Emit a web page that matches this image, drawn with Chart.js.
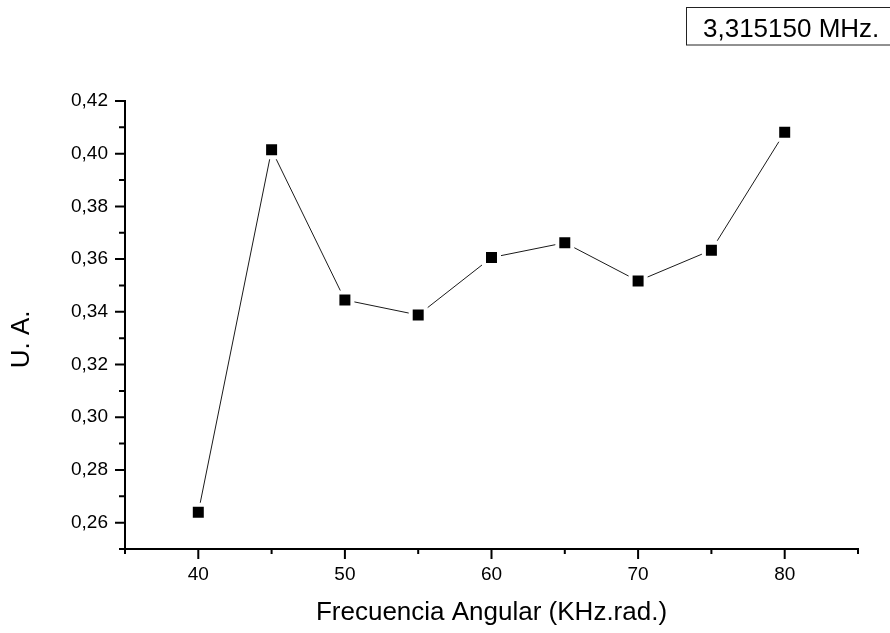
<!DOCTYPE html>
<html>
<head>
<meta charset="utf-8">
<script src="https://cdn.jsdelivr.net/npm/chart.js@4"></script>
<style>
  html, body { margin: 0; padding: 0; background: #fff; }
  #wrap { width: 890px; height: 633px; }
</style>
</head>
<body>
<div id="wrap"><canvas id="chart" width="890" height="633"></canvas></div>
<script>
// angular frequency (KHz.rad.) vs response (U. A.)
const frecuencia = [40, 45, 50, 55, 60, 65, 70, 75, 80];
const amplitud = [0.2639, 0.4015, 0.3445, 0.3388, 0.3606, 0.3662, 0.3517, 0.3634, 0.4081];
const xTicks = [35, 40, 45, 50, 55, 60, 65, 70, 75, 80, 85];
const yTicks = [0.25, 0.26, 0.27, 0.28, 0.29, 0.30, 0.31, 0.32, 0.33, 0.34, 0.35, 0.36, 0.37, 0.38, 0.39, 0.40, 0.41, 0.42];
const etiqueta = '3,315150 MHz.';

const FONT = "'Liberation Sans', Arial, sans-serif";

const esMayorX = v => Math.round(v) % 10 === 0;
const esMayorY = v => Math.round(v * 100) % 2 === 0;

// outward tick marks, long on labelled values and short in between
const marcas = {
  id: 'marcas',
  afterDraw(chart) {
    const ctx = chart.ctx;
    const area = chart.chartArea;
    const sx = chart.scales.x, sy = chart.scales.y;
    ctx.save();
    ctx.strokeStyle = '#000';
    ctx.lineWidth = 2;
    ctx.beginPath();
    sx.ticks.forEach(t => {
      const px = sx.getPixelForValue(t.value);
      ctx.moveTo(px, area.bottom);
      ctx.lineTo(px, area.bottom + (esMayorX(t.value) ? 10 : 5));
    });
    sy.ticks.forEach(t => {
      const py = sy.getPixelForValue(t.value);
      ctx.moveTo(area.left, py);
      ctx.lineTo(area.left - (esMayorY(t.value) ? 10 : 6), py);
    });
    ctx.stroke();

    // frequency label in a box, top right
    ctx.lineWidth = 1;
    ctx.strokeStyle = '#222';
    ctx.strokeRect(686.5, 7.5, 215, 37.5);
    ctx.fillStyle = '#000';
    ctx.font = '26px ' + FONT;
    ctx.textAlign = 'left';
    ctx.textBaseline = 'alphabetic';
    ctx.fillText(etiqueta, 703, 36.5);
    ctx.restore();
  }
};

new Chart(document.getElementById('chart'), {
  type: 'line',
  data: {
    datasets: [{
      data: frecuencia.map((f, i) => ({ x: f, y: amplitud[i] })),
      borderColor: '#1a1a1a',
      borderWidth: 1,
      pointStyle: 'rect',
      pointRadius: 10.6,
      pointBackgroundColor: '#000',
      pointBorderColor: '#fff',
      pointBorderWidth: 4,
      tension: 0,
      fill: false
    }]
  },
  options: {
    responsive: false,
    animation: false,
    events: [],
    layout: { padding: { top: 101, right: 32, left: 0, bottom: 0 } },
    plugins: { legend: { display: false }, tooltip: { enabled: false } },
    scales: {
      x: {
        type: 'linear',
        min: 35,
        max: 85,
        afterBuildTicks: s => { s.ticks = xTicks.map(v => ({ value: v })); },
        afterFit: s => { s.height = 84; },
        grid: { display: true, drawOnChartArea: false, drawTicks: false },
        border: { display: true, color: '#000', width: 2 },
        ticks: {
          padding: 14,
          color: '#000',
          font: { family: FONT, size: 19 },
          maxRotation: 0,
          autoSkip: false,
          callback: v => esMayorX(v) ? String(v) : ''
        },
        title: {
          display: true,
          text: 'Frecuencia Angular (KHz.rad.)',
          color: '#000',
          font: { family: FONT, size: 26 },
          padding: { top: 0, bottom: 5 }
        }
      },
      y: {
        type: 'linear',
        min: 0.25,
        max: 0.42,
        afterBuildTicks: s => { s.ticks = yTicks.map(v => ({ value: v })); },
        afterFit: s => { s.width = 125; },
        grid: { display: true, drawOnChartArea: false, drawTicks: false },
        border: { display: true, color: '#000', width: 2 },
        ticks: {
          padding: 17,
          color: '#000',
          font: { family: FONT, size: 19 },
          autoSkip: false,
          callback: v => esMayorY(v) ? v.toFixed(2).replace('.', ',') : ''
        },
        title: {
          display: true,
          text: 'U. A.    ',
          color: '#000',
          font: { family: FONT, size: 26 },
          padding: { top: 6, bottom: 0 }
        }
      }
    }
  },
  plugins: [marcas]
});
</script>
</body>
</html>
